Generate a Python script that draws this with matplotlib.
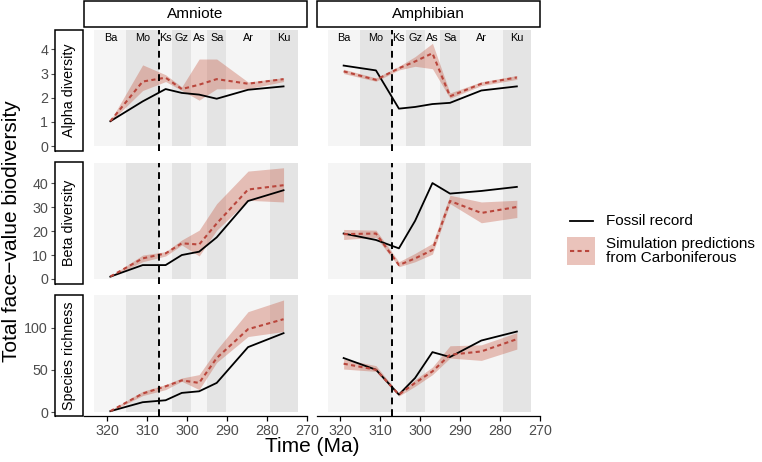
import matplotlib
matplotlib.use("Agg")
import matplotlib.pyplot as plt
from matplotlib.patches import Rectangle
from matplotlib.lines import Line2D

plt.rcParams['font.family'] = ['Liberation Sans', 'DejaVu Sans']

# ---------------- data ----------------
stages = ['Ba', 'Mo', 'Ks', 'Gz', 'As', 'Sa', 'Ar', 'Ku']
stage_start = [323.2, 315.2, 307.0, 303.7, 298.9, 295.0, 290.1, 279.3]
stage_end = [315.2, 307.0, 303.7, 298.9, 295.0, 290.1, 279.3, 272.3]
stage_mid = [319.2, 311.1, 305.35, 301.3, 296.95, 292.55, 284.7, 275.8]
boundary = 307.0

groups = ['Amniote', 'Amphibian']
metrics = ['Alpha diversity', 'Beta diversity', 'Species richness']

amn_alpha_fossil = [1.03, 1.85, 2.36, 2.20, 2.13, 1.96, 2.33, 2.47]
amn_alpha_sim = [1.03, 2.67, 2.83, 2.36, 2.54, 2.77, 2.58, 2.77]
amn_alpha_lo = [1.00, 2.30, 2.67, 2.30, 1.90, 2.37, 2.37, 2.67]
amn_alpha_hi = [1.05, 3.36, 2.95, 2.45, 3.60, 3.60, 2.65, 2.83]

amp_alpha_fossil = [3.33, 3.13, 1.55, 1.62, 1.74, 1.79, 2.30, 2.47]
amp_alpha_sim = [3.09, 2.74, 3.22, 3.50, 3.84, 2.06, 2.58, 2.84]
amp_alpha_lo = [3.00, 2.68, 3.15, 3.30, 3.20, 1.98, 2.50, 2.76]
amp_alpha_hi = [3.18, 2.82, 3.30, 3.70, 4.25, 2.20, 2.66, 2.92]

amn_beta_fossil = [0.97, 5.8, 5.8, 10.0, 11.4, 17.4, 32.6, 37.1]
amn_beta_sim = [1.0, 8.6, 10.7, 14.9, 14.4, 23.2, 37.4, 39.2]
amn_beta_lo = [0.8, 7.2, 9.6, 14.2, 9.6, 20.4, 32.9, 32.2]
amn_beta_hi = [1.2, 10.0, 11.4, 16.3, 20.4, 31.5, 45.1, 46.5]

amp_beta_fossil = [19.0, 16.3, 12.8, 24.3, 40.1, 35.7, 36.8, 38.5]
amp_beta_sim = [18.75, 19.0, 5.8, 8.6, 12.1, 32.6, 27.6, 30.1]
amp_beta_lo = [16.5, 17.4, 5.1, 7.2, 10.4, 31.5, 23.5, 25.7]
amp_beta_hi = [20.7, 20.4, 7.2, 10.7, 14.9, 35.0, 32.2, 32.9]

amn_rich_fossil = [1.2, 11.8, 14.1, 22.8, 24.7, 34.6, 76.9, 93.4]
amn_rich_sim = [1.2, 22.0, 30.6, 37.6, 34.6, 64.0, 98.1, 109.9]
amn_rich_lo = [0.5, 19.6, 26.7, 36.5, 26.7, 58.8, 89.4, 95.3]
amn_rich_hi = [2.5, 24.7, 32.6, 40.4, 44.4, 73.8, 118.8, 132.6]

amp_rich_fossil = [64.0, 50.2, 20.8, 40.4, 71.0, 65.2, 84.7, 95.3]
amp_rich_sim = [57.3, 50.2, 20.8, 34.6, 48.2, 67.9, 71.8, 86.3]
amp_rich_lo = [51.0, 48.2, 19.0, 30.6, 44.4, 64.0, 61.2, 74.6]
amp_rich_hi = [62.8, 55.0, 22.0, 38.5, 53.4, 78.5, 79.6, 94.1]

panel_data = {
    ('Amniote', 'Alpha diversity'): (amn_alpha_fossil, amn_alpha_sim, amn_alpha_lo, amn_alpha_hi),
    ('Amphibian', 'Alpha diversity'): (amp_alpha_fossil, amp_alpha_sim, amp_alpha_lo, amp_alpha_hi),
    ('Amniote', 'Beta diversity'): (amn_beta_fossil, amn_beta_sim, amn_beta_lo, amn_beta_hi),
    ('Amphibian', 'Beta diversity'): (amp_beta_fossil, amp_beta_sim, amp_beta_lo, amp_beta_hi),
    ('Amniote', 'Species richness'): (amn_rich_fossil, amn_rich_sim, amn_rich_lo, amn_rich_hi),
    ('Amphibian', 'Species richness'): (amp_rich_fossil, amp_rich_sim, amp_rich_lo, amp_rich_hi),
}

ylims = [(-0.2, 4.8), (-1.9, 48.7), (-4.5, 138.5)]
yticks = [[0, 1, 2, 3, 4], [0, 10, 20, 30, 40], [0, 50, 100]]
xticks = [320, 310, 300, 290, 280, 270]
xlim = (325.8, 270)

# ---------------- styling / layout ----------------
W, H = 762, 462
fig = plt.figure(figsize=(W / 100, H / 100), dpi=100)

cols_px = [(84, 306.7), (317.3, 540)]
rows_px = [(30, 151), (162.5, 283.5), (295, 416)]

light_band = '#f5f5f5'
dark_band = '#e4e4e4'
rib_color = '#c65a45'
sim_color = '#b9463c'
tick_grey = '#4d4d4d'


def rect(x0, y0, x1, y1):
    return [x0 / W, 1 - y1 / H, (x1 - x0) / W, (y1 - y0) / H]


def fig_box(x0, y0, x1, y1, **kw):
    r = Rectangle((x0 / W, 1 - y1 / H), (x1 - x0) / W, (y1 - y0) / H,
                  transform=fig.transFigure, **kw)
    fig.add_artist(r)


for ri, metric in enumerate(metrics):
    for ci, group in enumerate(groups):
        x0, x1 = cols_px[ci]
        y0, y1 = rows_px[ri]
        ax = fig.add_axes(rect(x0, y0, x1, y1))
        ax.set_xlim(*xlim)
        ax.set_ylim(*ylims[ri])
        lo_y, hi_y = ylims[ri]
        frac0 = (0 - lo_y) / (hi_y - lo_y)
        for k, (s, e) in enumerate(zip(stage_start, stage_end)):
            ax.axvspan(s, e, ymin=frac0, ymax=1,
                       color=light_band if k % 2 == 0 else dark_band,
                       lw=0, zorder=0)
        fossil, sim, lo, hi = panel_data[(group, metric)]
        ax.fill_between(stage_mid, lo, hi, color=rib_color, alpha=0.36,
                        lw=0, zorder=2)
        ax.plot(stage_mid, fossil, color='black', lw=1.3, zorder=3)
        ax.plot(stage_mid, sim, color=sim_color, lw=1.5, zorder=4,
                dashes=(2.0, 1.6))
        ax.axvline(boundary, color='black', lw=1.4, dashes=(3.5, 2.5),
                   zorder=5)

        if ri == 0:
            for name, m in zip(stages, stage_mid):
                ax.text(m, 0.934, name, transform=ax.get_xaxis_transform(),
                        ha='center', va='center', fontsize=7.8, color='black')

        for sp in ['top', 'right']:
            ax.spines[sp].set_visible(False)
        if ci == 0:
            ax.spines['left'].set_position(('outward', 20.9))
            ax.spines['left'].set_linewidth(0.8)
            ax.set_yticks(yticks[ri])
            ax.tick_params(axis='y', direction='out', length=3, width=0.8,
                           color=tick_grey, labelcolor=tick_grey,
                           labelsize=10.3, pad=2)
        else:
            ax.spines['left'].set_visible(False)
            ax.set_yticks([])
        if ri == 2:
            ax.spines['bottom'].set_linewidth(0.9)
            ax.set_xticks(xticks)
            ax.tick_params(axis='x', direction='out', length=3.5, width=0.9,
                           color='black', labelcolor=tick_grey,
                           labelsize=10.3, pad=2.5)
        else:
            ax.spines['bottom'].set_visible(False)
            ax.set_xticks([])
        ax.set_facecolor('white')

# top strips
for ci, group in enumerate(groups):
    x0, x1 = cols_px[ci]
    fig_box(x0, 1, x1, 27, facecolor='white', edgecolor='black', lw=1.1)
    fig.text(((x0 + x1) / 2) / W, 1 - 14 / H, group, ha='center',
             va='center', fontsize=11.1)

# row strips
for ri, metric in enumerate(metrics):
    y0, y1 = rows_px[ri]
    fig_box(55, y0, 83, y1, facecolor='white', edgecolor='black', lw=1.1)
    fig.text(69 / W, 1 - ((y0 + y1) / 2) / H, metric, rotation=90,
             ha='center', va='center', fontsize=10.3)

# axis titles
fig.text(12 / W, 1 - 231 / H, 'Total face\u2212value biodiversity',
         rotation=90, ha='center', va='center', fontsize=15)
fig.text(312 / W, 1 - 447 / H, 'Time (Ma)', ha='center', va='center',
         fontsize=15)

# legend
fig.add_artist(Line2D([570 / W, 593 / W], [1 - 221 / H, 1 - 221 / H],
                      color='black', lw=1.3, transform=fig.transFigure))
fig.text(606 / W, 1 - 221 / H, 'Fossil record', ha='left', va='center',
         fontsize=11)
fig_box(567, 237, 595, 265, facecolor=rib_color, alpha=0.36, lw=0)
fig.add_artist(Line2D([570 / W, 592 / W], [1 - 251 / H, 1 - 251 / H],
                      color=sim_color, lw=1.5, dashes=(2.0, 1.6),
                      transform=fig.transFigure))
fig.text(606 / W, 1 - 251 / H, 'Simulation predictions\nfrom Carboniferous',
         ha='left', va='center', fontsize=11, linespacing=1.0)

fig.savefig('out.png', dpi=100)
